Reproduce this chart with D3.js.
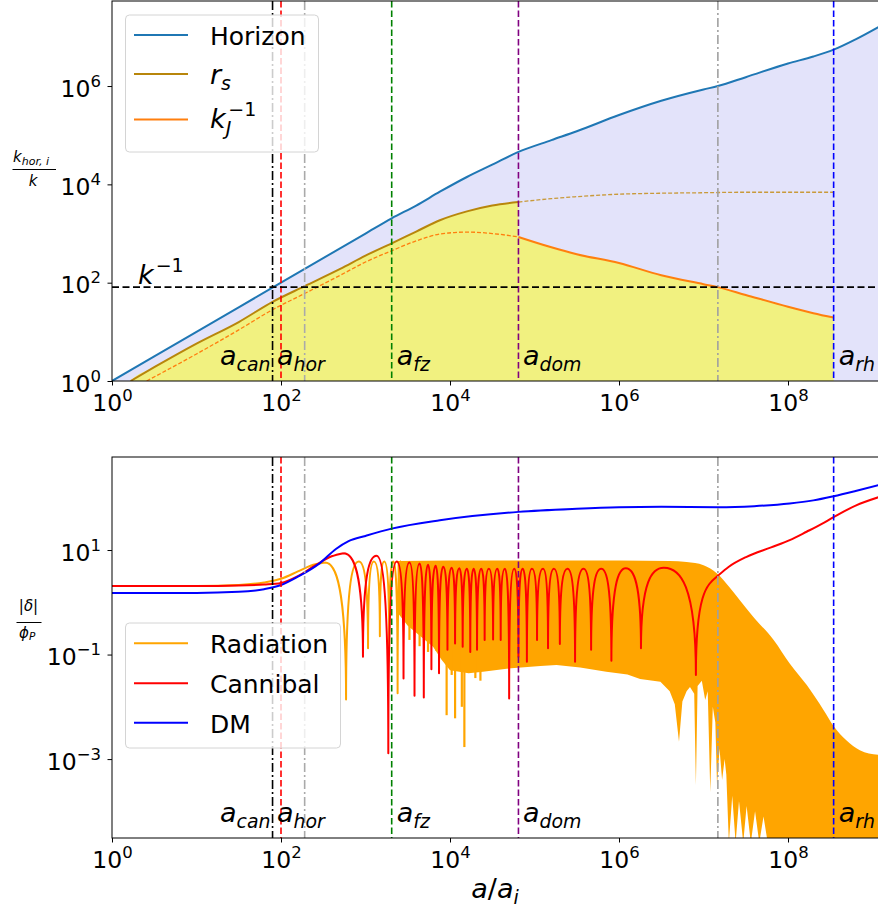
<!DOCTYPE html>
<html>
<head>
<meta charset="utf-8">
<script src="https://cdn.jsdelivr.net/npm/d3@7"></script>
<style>
  body { margin: 0; background: #fff; }
  svg { display: block; font-family: "DejaVu Sans", sans-serif; }
  .math { font-style: italic; }
</style>
</head>
<body>
<svg id="chart" width="878" height="911"></svg>
<script>
// every pair is [log10(a/a_i), log10(value)]

// ---- top panel ----
const horizon = [[0,0],[1,1],[2,2],[3,3],[3.31,3.31],[3.6,3.57],[3.88,3.85],[4.2,4.15],[4.5,4.4],[4.81,4.66],
  [5.2,4.9],[5.5,5.08],[6,5.41],[6.5,5.7],[7,5.93],[7.17,6.0],[7.5,6.18],[8,6.46],[8.3,6.6],[8.54,6.74],[8.8,6.95],[9.07,7.2]];
const rsSolid = [[0.22,0],[0.5,0.28],[1,0.76],[1.5,1.2],[1.9,1.61],[2.28,1.93],[2.7,2.28],[3,2.55],[3.31,2.8],
  [3.6,3.04],[3.88,3.27],[4.2,3.45],[4.5,3.57],[4.81,3.64]];
const rsDashed = [[4.81,3.64],[5.2,3.71],[5.5,3.75],[6,3.8],[6.5,3.82],[7,3.83],[7.5,3.84],[8,3.84],[8.54,3.84]];
const kjDashed = [[0.41,0],[1,0.55],[1.5,1.04],[1.9,1.45],[2.28,1.78],[2.7,2.15],[3,2.42],[3.31,2.65],[3.6,2.85],
  [3.88,2.99],[4.05,3.02],[4.2,3.03],[4.5,3.0],[4.81,2.93]];
const kjSolid = [[4.81,2.93],[5.2,2.72],[5.5,2.58],[6,2.4],[6.5,2.15],[7,1.97],[7.17,1.91],[7.5,1.75],[8,1.51],[8.3,1.38],[8.54,1.29]];
const kInvLog = 1.91;

// ---- bottom panel ----
const radSmooth = [[0,0.31],[1,0.31],[1.5,0.33],[1.8,0.38],[2,0.45],[2.2,0.59],[2.35,0.7],[2.52,0.76]];
const radOsc = [[2.52,0.76],[2.77,-1.86],[2.92,0.78],[3.03,-0.88],[3.1,0.78],[3.17,-0.65],[3.22,0.78],[3.28,-0.9],
  [3.33,0.78],[3.38,-1.74],[3.42,0.79]];
const radUpper = [[3.38,0.79],[4,0.8],[5,0.8],[6,0.8],[6.6,0.79],[6.8,0.77],[7,0.71],[7.16,0.55],[7.3,0.3],[7.43,0.04],
  [7.6,-0.3],[7.83,-0.72],[8.02,-1.17],[8.22,-1.58],[8.42,-2.06],[8.54,-2.37],[8.69,-2.64],[8.85,-2.83],[9.07,-2.92]];
const radLower = [[3.38,-0.2],[3.5,-0.45],[3.65,-0.65],[3.8,-0.85],[3.9,-1.1],[4,-1.3],[4.22,-1.36],[4.39,-1.33],
  [4.67,-1.27],[5.07,-1.22],[5.26,-1.2],[5.54,-1.25],[5.85,-1.33],[6.1,-1.38],[6.25,-1.47],[6.49,-1.52],[6.6,-1.7],
  [6.66,-1.95],[6.71,-2.67],[6.75,-1.9],[6.8,-1.7],[6.84,-1.62],[6.89,-1.75],[6.91,-3.5],[6.93,-1.6],[6.98,-1.5],
  [7.02,-1.87],[7.05,-1.7],[7.08,-3.63],[7.11,-2.0],[7.14,-2.3],[7.16,-3.5],[7.19,-2.8],[7.22,-3.4],[7.25,-3.0],
  [7.27,-3.3],[7.3,-4.6],[7.34,-3.7],[7.38,-4.6],[7.42,-3.8],[7.47,-4.6],[7.51,-3.9],[7.56,-4.6],[7.61,-4.0],
  [7.66,-4.6],[7.71,-4.1],[7.76,-4.6],[9.07,-4.6]];
const radSpikes = [[3.52,-0.72],[3.64,-0.84],[3.74,-0.95],[3.84,-0.93],[3.96,-2.16],[4.02,-1.39],[4.06,-2.22],
  [4.14,-2.0],[4.17,-2.77],[4.3,-1.45],[4.36,-1.5]];
const canSmooth = [[0,0.31],[1,0.31],[1.5,0.32],[1.8,0.34],[2,0.37],[2.2,0.5],[2.4,0.7],[2.6,0.88],[2.74,0.94]];
const canOsc = [[2.74,0.94],[2.97,-1.04],[3.13,0.89],[3.27,-2.89],[3.37,0.78],[3.45,-1.46],[3.52,0.76],[3.58,-1.79],
  [3.64,0.74],[3.69,-1.82],[3.74,0.72],[3.78,-1.28],[3.83,0.7],[3.87,-1.36],[3.92,0.68],[3.97,-0.91],[4.02,0.66],
  [4.06,-0.79],[4.11,0.65],[4.15,-0.85],[4.2,0.64],[4.24,-0.95],[4.28,0.64],[4.32,-0.91],[4.37,0.64],[4.41,-0.72],
  [4.46,0.64],[4.51,-0.71],[4.56,0.64],[4.6,-0.72],[4.65,0.64],[4.7,-1.84],[4.76,0.64],[4.81,-1.04],[4.86,0.64],
  [4.91,-1.14],[4.97,0.64],[5.03,-0.72],[5.1,0.64],[5.16,-0.88],[5.23,0.64],[5.3,-0.8],[5.39,0.64],[5.48,-1.14],
  [5.58,0.64],[5.67,-0.91],[5.79,0.64],[5.91,-1.12],[6.08,0.65],[6.26,-0.88],[6.53,0.66],[6.91,-1.39],[7.18,0.52]];
const canTail = [[7.18,0.52],[7.3,0.68],[7.51,0.87],[7.8,1.05],[8.02,1.19],[8.22,1.35],[8.4,1.5],[8.54,1.63],[8.8,1.85],[9.07,2.01]];
const dm = [[0,0.18],[1,0.18],[1.5,0.2],[1.8,0.25],[2,0.33],[2.2,0.49],[2.46,0.75],[2.65,1.02],[2.8,1.17],[3,1.27],
  [3.31,1.41],[3.88,1.57],[4.81,1.73],[5.5,1.79],[6,1.82],[6.5,1.83],[7.17,1.82],[7.6,1.84],[8.02,1.89],[8.3,1.95],
  [8.54,2.03],[8.8,2.13],[9.07,2.24]];

// ---- markers ----
const markerLogA = [1.9, 2.0, 2.28, 3.31, 4.81, 7.17, 8.54];
const markerSub = ['can', 'hor', null, 'fz', 'dom', null, 'rh'];
const markerColor = ['#000000', '#ff0000', '#aaaaaa', '#008000', '#800080', '#a0a0a0', '#0000ff'];
const markerDash = ['9,3,2,3', '6.5,3', '9,3,2,3', '6.5,3', '6.5,3', '9,3,2,3', '6.5,3'];
const markerLabelDx = [-2, -4, 0, 5, 4.5, 0, 5];

const xTickExp = [0, 2, 4, 6, 8];
const topTickExp = [0, 2, 4, 6];
const botTickExp = [-3, -1, 1];

const svg = d3.select('#chart');
const x = d3.scaleLog().domain([1, 10 ** 9.065]).range([112, 878]);
const yT = d3.scaleLog().domain([1, 10 ** 7.73]).range([381, 1]);
const yB = d3.scaleLog().domain([10 ** -4.51, 10 ** 2.78]).range([838, 457]);

const px = d => x(10 ** d[0]);

function clip(id, y0, y1) {
  svg.append('clipPath').attr('id', id).append('rect')
    .attr('x', 112).attr('y', y0).attr('width', 766).attr('height', y1 - y0);
}
clip('clipT', 1, 381);
clip('clipB', 457, 838);

function smoothD(pts, y) {
  return d3.line().x(px).y(d => y(10 ** d[1])).curve(d3.curveMonotoneX)(pts);
}
// oscillation arches: flat at the peaks, steep into each trough.
// nextPt (optional) sets the direction the last segment leaves in.
function archD(pts, y, nextPt) {
  const p = d3.path();
  const P = pts.map(d => [px(d), y(10 ** d[1])]);
  p.moveTo(P[0][0], P[0][1]);
  for (let i = 1; i < P.length; i++) {
    const [ax, ay] = P[i - 1], [bx, by] = P[i];
    if (by > ay) {
      p.bezierCurveTo(ax + 0.5 * (bx - ax), ay, bx, ay + 0.15 * (by - ay), bx, by);
    } else {
      let c2x = bx - 0.5 * (bx - ax), c2y = by;
      if (i === P.length - 1 && nextPt) {
        const nx = px(nextPt), ny = y(10 ** nextPt[1]);
        c2y = by - (ny - by) / (nx - bx) * 0.5 * (bx - ax);
      }
      p.bezierCurveTo(ax, by + 0.15 * (ay - by), c2x, c2y, bx, by);
    }
  }
  return p.toString();
}

// ================= top panel =================
const gT = svg.append('g').attr('clip-path', 'url(#clipT)');
gT.append('path')
  .attr('d', d3.area().x(px).y0(381).y1(d => yT(10 ** d[1])).curve(d3.curveMonotoneX)(horizon))
  .attr('fill', '#e3e3fa');
const yellowArea = d3.area().x(px).y0(381).y1(d => yT(10 ** d[1])).curve(d3.curveMonotoneX);
gT.append('path').attr('d', yellowArea([[0, -1], [0.22, 0]].concat(rsSolid.slice(1))) + yellowArea(kjSolid))
  .attr('fill', '#f1f180');

gT.append('path').attr('d', smoothD(horizon, yT)).attr('fill', 'none').attr('stroke', '#1f77b4').attr('stroke-width', 2);
gT.append('path').attr('d', smoothD(rsSolid, yT)).attr('fill', 'none').attr('stroke', '#b8860b').attr('stroke-width', 2);
gT.append('path').attr('d', smoothD(rsDashed, yT)).attr('fill', 'none').attr('stroke', '#c99a3a')
  .attr('stroke-width', 1.3).attr('stroke-dasharray', '4,2');
gT.append('path').attr('d', smoothD(kjDashed, yT)).attr('fill', 'none').attr('stroke', '#ff7f0e')
  .attr('stroke-width', 1.3).attr('stroke-dasharray', '4,2');
gT.append('path').attr('d', smoothD(kjSolid, yT)).attr('fill', 'none').attr('stroke', '#ff7f0e').attr('stroke-width', 2);

// ================= bottom panel =================
const gB = svg.append('g').attr('clip-path', 'url(#clipB)');
const yb = d => yB(10 ** d[1]);
const upperD = d3.line().x(px).y(yb).curve(d3.curveMonotoneX)(radUpper);
const lowerD = d3.line().x(px).y(yb)(radLower.slice().reverse());
gB.append('path').attr('d', upperD + lowerD.replace(/^M/, 'L') + 'Z').attr('fill', '#ffa500');
gB.selectAll('path.spike').data(radSpikes).join('path').attr('class', 'spike')
  .attr('d', d => `M${px(d)},${yB(10 ** -0.4)}L${px(d)},${yb(d)}`)
  .attr('stroke', '#ffa500').attr('stroke-width', 2.2);
gB.append('path').attr('d', smoothD(radSmooth, yB) + archD(radOsc, yB))
  .attr('fill', 'none').attr('stroke', '#ffa500').attr('stroke-width', 2).attr('stroke-linejoin', 'round');
gB.append('path').attr('d', smoothD(canSmooth, yB) + archD(canOsc, yB, canTail[1]) + smoothD(canTail, yB))
  .attr('fill', 'none').attr('stroke', '#ff0000').attr('stroke-width', 2).attr('stroke-linejoin', 'round');
gB.append('path').attr('d', smoothD(dm, yB)).attr('fill', 'none').attr('stroke', '#0000ff').attr('stroke-width', 2);

// ================= markers on both panels =================
function mathLabel(g, xPos, yPos, main, sub, anchor, size) {
  const t = g.append('text').attr('class', 'math').attr('x', xPos).attr('y', yPos)
    .attr('text-anchor', anchor).attr('font-size', size);
  t.append('tspan').text(main);
  if (sub) t.append('tspan').attr('dy', size * 0.24).attr('font-size', size * 0.7).text(sub);
  return t;
}

[[gT, 381, 1], [gB, 838, 457]].forEach(([g, yBot, yTop]) => {
  markerLogA.forEach((la, i) => {
    g.append('line').attr('x1', x(10 ** la)).attr('x2', x(10 ** la)).attr('y1', yTop).attr('y2', yBot)
      .attr('stroke', markerColor[i]).attr('stroke-width', 1.6).attr('stroke-dasharray', markerDash[i]);
  });
});
gT.append('line').attr('x1', 112).attr('x2', 878).attr('y1', yT(10 ** kInvLog)).attr('y2', yT(10 ** kInvLog))
  .attr('stroke', '#000').attr('stroke-width', 1.6).attr('stroke-dasharray', '7,3.5');
const kl = svg.append('text').attr('class', 'math').attr('x', 138).attr('y', 284).attr('font-size', 27);
kl.append('tspan').text('k');
kl.append('tspan').attr('dy', -12).attr('dx', 2).attr('font-size', 19).attr('font-style', 'normal').text('\u22121');

[365, 822].forEach(yBase => {
  markerLogA.forEach((la, i) => {
    if (!markerSub[i]) return;
    mathLabel(svg, x(10 ** la) + markerLabelDx[i], yBase, 'a', markerSub[i], i === 0 ? 'end' : 'start', 27);
  });
});

// ================= axes =================
function expTicks(sel, exps, anchor) {
  sel.selectAll('.tick text').each(function (d, i) {
    const t = d3.select(this).text(null).attr('text-anchor', anchor).attr('fill', '#000');
    t.append('tspan').text('10');
    const e = exps[i];
    t.append('tspan').attr('dy', -10).attr('font-size', 16.5).text(e < 0 ? '\u2212' + (-e) : e);
  });
}
function xAxis(yPos) {
  const g = svg.append('g').attr('transform', `translate(0,${yPos})`)
    .call(d3.axisBottom(x).tickValues(xTickExp.map(e => 10 ** e)).tickSize(4.5).tickFormat(() => ''));
  g.attr('font-size', 23.5).attr('font-family', '"DejaVu Sans", sans-serif');
  g.select('.domain').remove();
  g.selectAll('.tick line').attr('stroke', '#000');
  g.selectAll('.tick text').attr('y', 29.5).attr('dy', 0);
  expTicks(g, xTickExp, 'middle');
}
function yAxis(y, exps) {
  const g = svg.append('g').attr('transform', 'translate(112,0)')
    .call(d3.axisLeft(y).tickValues(exps.map(e => 10 ** e)).tickSize(4.5).tickFormat(() => ''));
  g.attr('font-size', 23.5).attr('font-family', '"DejaVu Sans", sans-serif');
  g.select('.domain').remove();
  g.selectAll('.tick line').attr('stroke', '#000');
  g.selectAll('.tick text').attr('x', -11).attr('dy', 10);
  expTicks(g, exps, 'end');
}
xAxis(381); xAxis(838);
yAxis(yT, topTickExp); yAxis(yB, botTickExp);
svg.append('rect').attr('x', 112).attr('y', 1).attr('width', 767).attr('height', 380)
  .attr('fill', 'none').attr('stroke', '#000').attr('stroke-width', 1);
svg.append('rect').attr('x', 112).attr('y', 457).attr('width', 767).attr('height', 381)
  .attr('fill', 'none').attr('stroke', '#000').attr('stroke-width', 1);

// y labels as fractions
const f1 = svg.append('text').attr('class', 'math').attr('x', 13).attr('y', 162).attr('font-size', 15);
f1.append('tspan').text('k');
f1.append('tspan').attr('dy', 3).attr('font-size', 11).text('hor, i');
svg.append('line').attr('x1', 12.5).attr('x2', 56).attr('y1', 169.5).attr('y2', 169.5).attr('stroke', '#000').attr('stroke-width', 1);
svg.append('text').attr('class', 'math').attr('x', 33).attr('y', 186).attr('text-anchor', 'middle').attr('font-size', 15).text('k');

const f2 = svg.append('text').attr('x', 28.5).attr('y', 611).attr('text-anchor', 'middle').attr('font-size', 15);
f2.append('tspan').text('|');
f2.append('tspan').attr('class', 'math').text('\u03b4');
f2.append('tspan').text('|');
svg.append('line').attr('x1', 16.5).attr('x2', 41.5).attr('y1', 622.5).attr('y2', 622.5).attr('stroke', '#000').attr('stroke-width', 1);
const f3 = svg.append('text').attr('class', 'math').attr('x', 19).attr('y', 638).attr('font-size', 15);
f3.append('tspan').text('\u03d5');
f3.append('tspan').attr('dy', 2).attr('font-size', 10.5).text('P');

// x label
const xl = svg.append('text').attr('x', 495).attr('y', 898).attr('text-anchor', 'middle').attr('font-size', 27);
xl.append('tspan').attr('class', 'math').text('a');
xl.append('tspan').text('/');
xl.append('tspan').attr('class', 'math').text('a');
xl.append('tspan').attr('class', 'math').attr('dy', 6).attr('font-size', 19).text('i');

// ================= legends =================
function legendBox(x0, y0, w, h) {
  svg.append('rect').attr('x', x0).attr('y', y0).attr('width', w).attr('height', h).attr('rx', 4)
    .attr('fill', 'rgba(255,255,255,0.8)').attr('stroke', '#d4d4d4').attr('stroke-width', 1);
}
function legendLine(yPos, color) {
  svg.append('line').attr('x1', 134).attr('x2', 188).attr('y1', yPos).attr('y2', yPos)
    .attr('stroke', color).attr('stroke-width', 2);
}
legendBox(125.5, 15, 193, 137);
legendLine(35, '#1f77b4');
legendLine(74, '#b8860b');
legendLine(119.5, '#ff7f0e');
svg.append('text').attr('x', 210).attr('y', 45).attr('font-size', 25).text('Horizon');
mathLabel(svg, 210, 84, 'r', 's', 'start', 27);
const kj = svg.append('text').attr('class', 'math').attr('x', 210).attr('y', 128).attr('font-size', 27);
kj.append('tspan').text('k');
kj.append('tspan').attr('dy', 7).attr('font-size', 19).text('J');
kj.append('tspan').attr('dy', -19).attr('dx', -3).attr('font-size', 19).attr('font-style', 'normal').text('\u22121');

legendBox(125.5, 623, 215, 125);
[['Radiation', '#ffa500', 643.3], ['Cannibal', '#ff0000', 683.3], ['DM', '#0000ff', 722.7]].forEach(([name, c, yy]) => {
  legendLine(yy, c);
  svg.append('text').attr('x', 210).attr('y', yy + 10).attr('font-size', 25).text(name);
});
</script>
</body>
</html>
